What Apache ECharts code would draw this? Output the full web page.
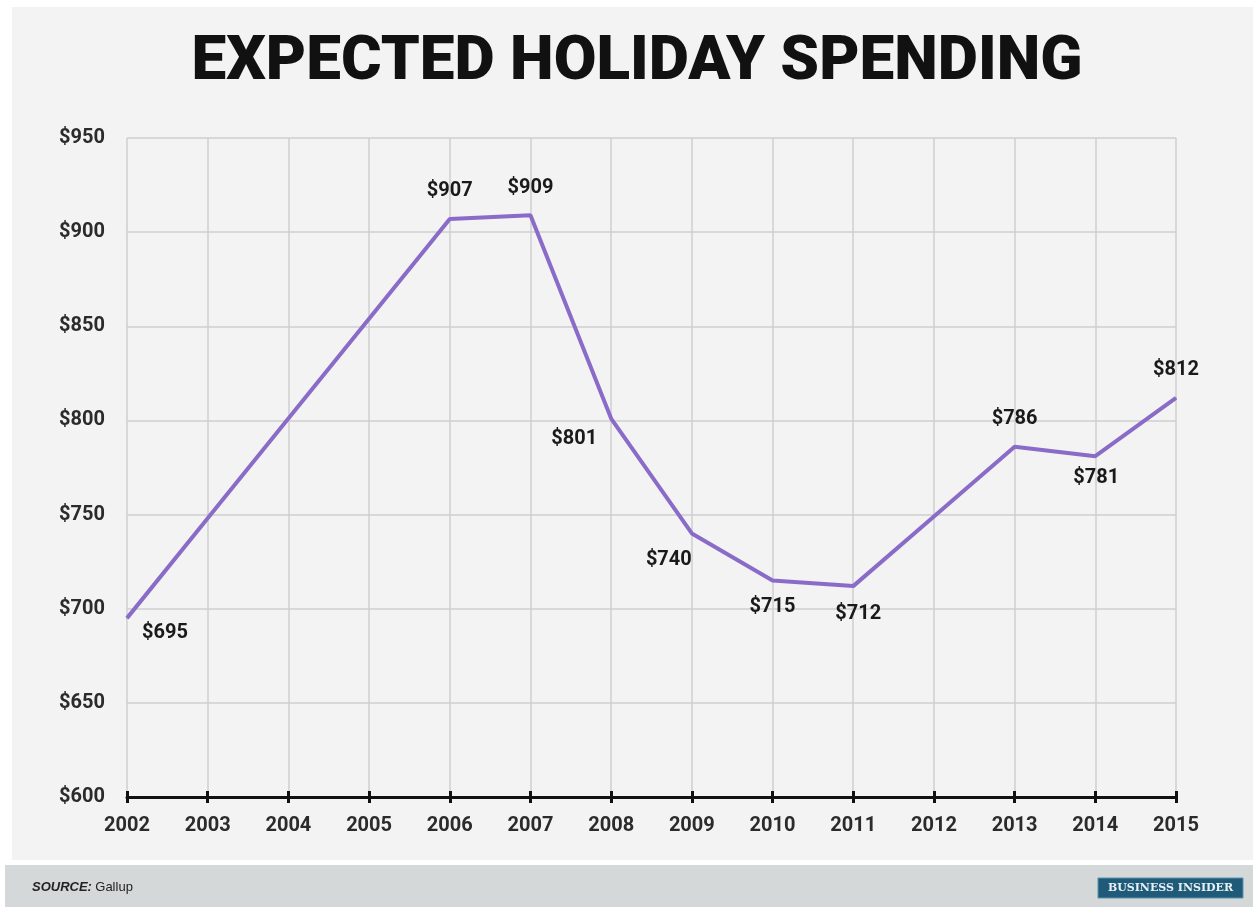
<!DOCTYPE html>
<html>
<head>
<meta charset="utf-8">
<script src="https://cdn.jsdelivr.net/npm/echarts@6/dist/echarts.min.js"></script>
<style>
html,body{margin:0;padding:0;background:#ffffff;}
#c{width:1253px;height:907px;}
</style>
</head>
<body>
<div id="c"></div>
<script>
const years = ['2002','2003','2004','2005','2006','2007','2008','2009','2010','2011','2012','2013','2014','2015'];
const spending = [695, 748, 801, 854, 907, 909, 801, 740, 715, 712, 749, 786, 781, 812];
const labeledYears = ['2002','2006','2007','2008','2009','2010','2011','2013','2014','2015'];
const yTicks = [600, 650, 700, 750, 800, 850, 900, 950];

// label offsets relative to the point (style, not data)
const labelOffsets = {
  '2002': [38, 15], '2006': [0, -28], '2007': [0, -27], '2008': [-37, 20],
  '2009': [-23, 27], '2010': [0, 27], '2011': [5, 28], '2013': [0, -28],
  '2014': [1, 22], '2015': [0, -28]
};

const seriesData = years.map((y, i) => {
  const shown = labeledYears.indexOf(y) >= 0;
  return {
    value: spending[i],
    label: shown ? { show: true, position: 'inside', offset: labelOffsets[y] } : { show: false }
  };
});

const chart = echarts.init(document.getElementById('c'));
const option = {
  backgroundColor: '#ffffff',
  animation: false,
  graphic: [
    { type: 'rect', z: -10, shape: { x: 12, y: 7, width: 1241, height: 853 }, style: { fill: '#f3f3f3' } },
    { type: 'rect', z: -10, shape: { x: 5, y: 865, width: 1248, height: 42 }, style: { fill: '#d5d8d9' } },
    { type: 'text', x: 637, y: 63, style: { text: 'EXPECTED HOLIDAY SPENDING', font: '900 62px Roboto', fill: '#111111', align: 'center', verticalAlign: 'middle' } },
    { type: 'text', left: 32, top: 881, style: {
        text: '{b|SOURCE:} {n|Gallup}',
        rich: {
          b: { font: 'italic bold 13px "Liberation Sans Narrow", "Liberation Sans", sans-serif', fill: '#222' },
          n: { font: '13px "Liberation Sans Narrow", "Liberation Sans", sans-serif', fill: '#222' }
        }
      } },
    { type: 'rect', shape: { x: 1098, y: 878, width: 145, height: 20 }, style: { fill: '#1f5b78', stroke: '#5d93ab', lineWidth: 1 } },
    { type: 'text', x: 1170.5, y: 888, style: { text: 'BUSINESS INSIDER', font: 'bold 11px "DejaVu Serif", serif', fill: '#e8f0f4', align: 'center', verticalAlign: 'middle' } }
  ],
  grid: { left: 127, right: 77, top: 138, bottom: 110 },
  xAxis: [
    {
      type: 'category', data: years, boundaryGap: false,
      axisLine: { show: true, lineStyle: { color: '#111', width: 3 } },
      axisTick: { show: true, length: 6, lineStyle: { color: '#111', width: 3 } },
      axisLabel: { margin: 19, color: '#2b2b2b', fontSize: 20, fontWeight: 'bold', fontFamily: 'Roboto' },
      splitLine: { show: true, lineStyle: { color: '#cfcfcf', width: 1.5 } }
    },
    {
      type: 'category', data: years, boundaryGap: false, position: 'bottom',
      axisLine: { show: false },
      axisTick: { show: true, inside: true, length: 6, lineStyle: { color: '#111', width: 3 } },
      axisLabel: { show: false }, splitLine: { show: false }
    }
  ],
  yAxis: {
    type: 'value', min: 600, max: 950, interval: 50,
    axisLine: { show: false }, axisTick: { show: false },
    axisLabel: { margin: 22, color: '#2b2b2b', fontSize: 20, fontWeight: 'bold', fontFamily: 'Roboto',
      formatter: v => yTicks.indexOf(v) >= 0 ? '$' + v : '' },
    splitLine: { show: true, lineStyle: { color: '#cfcfcf', width: 1.5 } }
  },
  series: [{
    type: 'line', data: seriesData, xAxisIndex: 0,
    symbol: 'circle', symbolSize: 1, showSymbol: true,
    itemStyle: { color: '#8a6cc8' },
    lineStyle: { color: '#8a6cc8', width: 4 },
    label: { color: '#1a1a1a', fontSize: 20, fontWeight: 'bold', fontFamily: 'Roboto',
      formatter: p => '$' + p.value },
    z: 5
  }]
};
chart.setOption(option);
</script>
</body>
</html>
